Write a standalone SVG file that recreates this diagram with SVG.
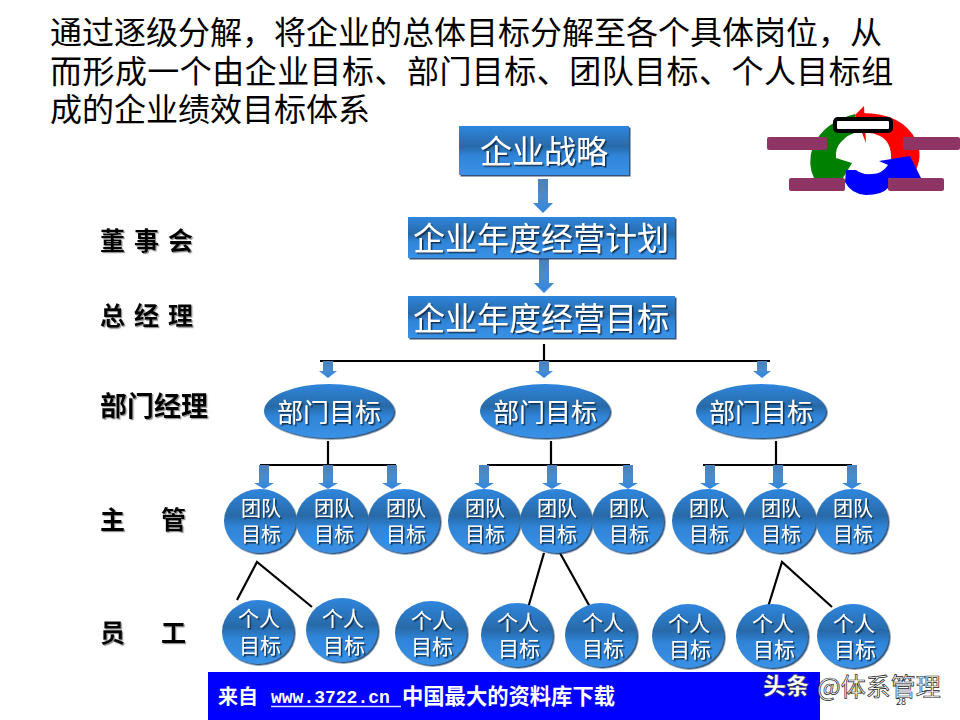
<svg xmlns="http://www.w3.org/2000/svg" width="960" height="720" viewBox="0 0 960 720">
<defs>
<linearGradient id="g" x1="0" y1="0" x2="0" y2="1"><stop offset="0" stop-color="#2f86de"/><stop offset=".42" stop-color="#286aa8"/><stop offset=".6" stop-color="#2f84d8"/><stop offset="1" stop-color="#3a92e6"/></linearGradient>
<linearGradient id="a" gradientUnits="objectBoundingBox" x1="0" y1="0" x2="0" y2="1"><stop offset="0" stop-color="#4a80b8"/><stop offset=".5" stop-color="#4a8ccc"/><stop offset="1" stop-color="#2f86e0"/></linearGradient>
<filter id="s" x="-10%" y="-10%" width="125%" height="125%"><feDropShadow dx="1.5" dy="1.5" stdDeviation="0.6" flood-color="#1d3f66" flood-opacity=".9"/></filter>
<filter id="t" x="-10%" y="-10%" width="125%" height="125%"><feDropShadow dx="1.5" dy="1.5" stdDeviation="0.4" flood-color="#0c2a4a" flood-opacity=".95"/></filter>
<filter id="ls" x="-10%" y="-10%" width="125%" height="125%"><feDropShadow dx="1.2" dy="1.2" stdDeviation="0.6" flood-color="#777" flood-opacity=".8"/></filter>
<path id="ar" d="M-5 0H5V24H10L0 34L-10 24H-5Z" fill="url(#a)"/>
<path id="am" d="M-5 0H5V10H9L0 17L-9 10H-5Z" fill="url(#a)"/>
<path id="as" d="M-5 0H5V18H10L0 24L-10 18H-5Z" fill="url(#a)"/>
</defs>
<style>
text{font-family:"Noto Sans CJK SC","Liberation Sans",sans-serif}
.h{font-size:32px;fill:#000}
.l{font-weight:700;fill:#000;filter:url(#ls)}
.n{fill:#fff;text-anchor:middle;filter:url(#t)}
.f{fill:url(#g);filter:url(#s)}
.c{fill:none;stroke:#000;stroke-width:2.2}
.m{fill:#8e3566}
.t20{font-size:20px}
.t21{font-size:21px}
</style>
<g id="title">
<text class="h"><tspan x="50" y="44">通过逐级分解，将企业的总体目标分解至各个具体岗位，从</tspan><tspan x="50" y="83" letter-spacing=".45">而形成一个由企业目标、部门目标、团队目标、个人目标组</tspan><tspan x="50" y="121">成的企业绩效目标体系</tspan></text>
</g>
<g id="cycle">
<path d="M864 106L855 115L866 143Z" fill="#f00"/>
<path d="M862 113Q902 113 916 140Q924 156 914 174L891 160Q892 142 880 136Q872 132 864 133Z" fill="#f00"/>
<path d="M855 114Q824 122 813 146Q807 164 814 178L843 178L852 163L836 158Q835 148 841 142Q848 134 858 132Z" fill="#008000"/>
<path d="M846 170L845 182Q851 194 866 195Q882 195 888 188L889 178L921 178L910 156L879 161L888 165Q882 174 872 174Q862 175 856 170Z" fill="#00f"/>
<rect x="835" y="119" width="56" height="12" rx="3" fill="#fff" stroke="#000" stroke-width="4"/>
<rect class="m" x="767" y="137" width="60" height="13" rx="2"/>
<rect class="m" x="903" y="137" width="57" height="13" rx="2"/>
<rect class="m" x="789" y="178" width="56" height="13" rx="2"/>
<rect class="m" x="888" y="178" width="56" height="13" rx="2"/>
</g>
<g id="connectors">
<use href="#ar" x="543" y="179"/>
<use href="#ar" x="544" y="259"/>
<path class="c" d="M544 344V361M320 361H770"/>
<path class="c" d="M328 441V465M551 441V465M776 441V465M260 465H396M487 465H630M703 465H852"/>
<path class="c" d="M237 600L257 562L312 607M544 553L528 608M560 553L590 607M768 607L782 562L832 607"/>
<use href="#am" x="328" y="361"/>
<use href="#am" x="544" y="361"/>
<use href="#am" x="762" y="361"/>
<use href="#as" x="264" y="465"/>
<use href="#as" x="328" y="465"/>
<use href="#as" x="392" y="465"/>
<use href="#as" x="484" y="465"/>
<use href="#as" x="552" y="465"/>
<use href="#as" x="628" y="465"/>
<use href="#as" x="710" y="465"/>
<use href="#as" x="778" y="465"/>
<use href="#as" x="852" y="465"/>
</g>
<g id="n-strategy"><rect class="f" x="459" y="126" width="170" height="49"/><text class="n" x="544" y="163" font-size="32">企业战略</text></g>
<g id="n-plan"><rect class="f" x="408" y="217" width="267" height="41"/><text class="n" x="541" y="250" font-size="32">企业年度经营计划</text></g>
<g id="n-goal"><rect class="f" x="408" y="296" width="267" height="42"/><text class="n" x="541" y="330" font-size="32">企业年度经营目标</text></g>
<g id="d1"><ellipse class="f" cx="329" cy="411" rx="65" ry="27"/><text class="n" x="329" y="422" font-size="26">部门目标</text></g>
<g id="d2"><ellipse class="f" cx="545" cy="411" rx="65" ry="27"/><text class="n" x="545" y="422" font-size="26">部门目标</text></g>
<g id="d3"><ellipse class="f" cx="761" cy="411" rx="65" ry="27"/><text class="n" x="761" y="422" font-size="26">部门目标</text></g>
<g id="t1"><ellipse class="f" cx="260" cy="521" rx="36" ry="32"/><text class="n t20"><tspan x="261" y="516">团队</tspan><tspan x="261" y="542">目标</tspan></text></g>
<g id="t2"><ellipse class="f" cx="332" cy="521" rx="36" ry="32"/><text class="n t20"><tspan x="334" y="516">团队</tspan><tspan x="334" y="542">目标</tspan></text></g>
<g id="t3"><ellipse class="f" cx="404" cy="521" rx="36" ry="32"/><text class="n t20"><tspan x="406" y="516">团队</tspan><tspan x="406" y="542">目标</tspan></text></g>
<g id="t4"><ellipse class="f" cx="484" cy="521" rx="36" ry="32"/><text class="n t20"><tspan x="485" y="516">团队</tspan><tspan x="485" y="542">目标</tspan></text></g>
<g id="t5"><ellipse class="f" cx="556" cy="521" rx="36" ry="32"/><text class="n t20"><tspan x="557" y="516">团队</tspan><tspan x="557" y="542">目标</tspan></text></g>
<g id="t6"><ellipse class="f" cx="628" cy="521" rx="36" ry="32"/><text class="n t20"><tspan x="629" y="516">团队</tspan><tspan x="629" y="542">目标</tspan></text></g>
<g id="t7"><ellipse class="f" cx="708" cy="521" rx="36" ry="32"/><text class="n t20"><tspan x="709" y="516">团队</tspan><tspan x="709" y="542">目标</tspan></text></g>
<g id="t8"><ellipse class="f" cx="780" cy="521" rx="36" ry="32"/><text class="n t20"><tspan x="781" y="516">团队</tspan><tspan x="781" y="542">目标</tspan></text></g>
<g id="t9"><ellipse class="f" cx="852" cy="521" rx="36" ry="32"/><text class="n t20"><tspan x="853" y="516">团队</tspan><tspan x="853" y="542">目标</tspan></text></g>
<g id="p1"><ellipse class="f" cx="258" cy="632" rx="36" ry="32"/><text class="n t21"><tspan x="259" y="626">个人</tspan><tspan x="260" y="653">目标</tspan></text></g>
<g id="p2"><ellipse class="f" cx="342" cy="630" rx="36" ry="32"/><text class="n t21"><tspan x="343" y="626">个人</tspan><tspan x="344" y="653">目标</tspan></text></g>
<g id="p3"><ellipse class="f" cx="431" cy="633" rx="36" ry="32"/><text class="n t21"><tspan x="432" y="628">个人</tspan><tspan x="432" y="654">目标</tspan></text></g>
<g id="p4"><ellipse class="f" cx="517" cy="635" rx="36" ry="32"/><text class="n t21"><tspan x="518" y="630">个人</tspan><tspan x="519" y="656">目标</tspan></text></g>
<g id="p5"><ellipse class="f" cx="601" cy="635" rx="36" ry="32"/><text class="n t21"><tspan x="603" y="630">个人</tspan><tspan x="603" y="656">目标</tspan></text></g>
<g id="p6"><ellipse class="f" cx="688" cy="636" rx="36" ry="32"/><text class="n t21"><tspan x="689" y="631">个人</tspan><tspan x="690" y="657">目标</tspan></text></g>
<g id="p7"><ellipse class="f" cx="772" cy="636" rx="36" ry="32"/><text class="n t21"><tspan x="773" y="631">个人</tspan><tspan x="774" y="657">目标</tspan></text></g>
<g id="p8"><ellipse class="f" cx="853" cy="636" rx="36" ry="32"/><text class="n t21"><tspan x="854" y="631">个人</tspan><tspan x="855" y="657">目标</tspan></text></g>
<g id="levels">
<text class="l" x="100" y="250" font-size="25" letter-spacing="9">董事会</text>
<text class="l" x="100" y="325" font-size="25" letter-spacing="9">总经理</text>
<text class="l" x="100" y="416" font-size="27">部门经理</text>
<text class="l" y="529" font-size="25"><tspan x="100">主</tspan><tspan x="161">管</tspan></text>
<text class="l" y="642" font-size="25"><tspan x="100">员</tspan><tspan x="161">工</tspan></text>
</g>
<g id="banner">
<rect x="208" y="672" width="612" height="48" fill="#00f"/>
<text x="218" y="704" font-size="20" font-weight="700" fill="#fff">来自</text>
<text x="271" y="703" font-size="18" font-weight="700" fill="#fff" style="font-family:'Liberation Mono',monospace">www.3722.cn</text>
<path d="M271 706.5H401" stroke="#dde" stroke-width="1.5"/>
<text x="402" y="704" font-size="21.3" font-weight="700" fill="#fff">中国最大的资料库下载</text>
</g>
<g id="watermark">
<text x="763" y="694" font-size="23" font-weight="900" fill="#fff" stroke="#222" stroke-width=".5">头条</text>
<text x="817" y="696" font-size="25" fill="#fff" stroke="#222" stroke-width=".7">@体系管理</text>
<text x="896" y="705" font-size="9" fill="#222">28</text>
</g>
</svg>
